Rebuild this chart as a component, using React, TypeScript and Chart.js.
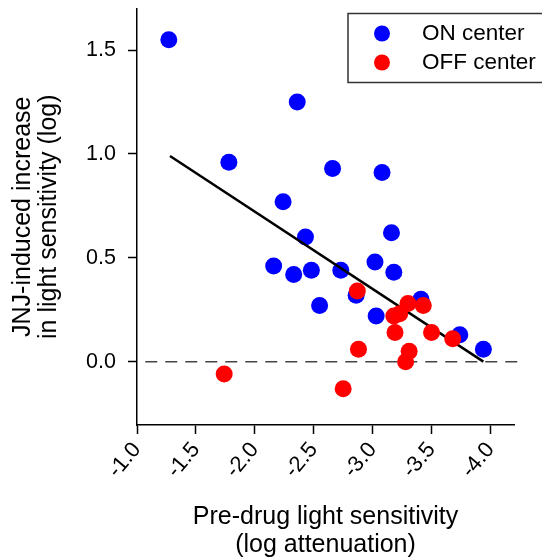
import React, { useEffect, useRef } from "react";
import { Chart, registerables } from "chart.js";

Chart.register(...registerables);

// ---- data ----
const onLabel = "ON center";
const onX = [-1.27, -2.36, -1.78, -2.66, -3.08, -2.24, -2.43, -3.16, -2.16, -2.33, -2.48, -2.73, -3.02, -3.18, -2.55, -2.86, -3.03, -3.41, -3.74, -3.94];
const onY = [1.55, 1.25, 0.96, 0.93, 0.91, 0.77, 0.6, 0.62, 0.46, 0.42, 0.44, 0.44, 0.48, 0.43, 0.27, 0.32, 0.22, 0.3, 0.13, 0.06];

const offLabel = "OFF center";
const offX = [-2.87, -3.3, -3.43, -3.18, -3.23, -3.19, -3.5, -3.68, -2.88, -3.31, -3.28, -1.74, -2.75];
const offY = [0.34, 0.28, 0.27, 0.22, 0.23, 0.14, 0.14, 0.11, 0.06, 0.05, 0.0, -0.06, -0.13];

const fitX = [-1.28, -3.94];
const fitY = [0.99, 0.0];

const zeroX = [-1.07, -4.24];
const zeroY = [0, 0];

const xTicks = [-1.0, -1.5, -2.0, -2.5, -3.0, -3.5, -4.0];
const yTicks = [0.0, 0.5, 1.0, 1.5];

const xTitle = ["Pre-drug light sensitivity", "(log attenuation)"];
const yTitle = ["JNJ-induced increase", "in light sensitivity (log)"];

const FONT = "'Liberation Sans', Arial, Helvetica, sans-serif";

const toPts = (xs: number[], ys: number[]) => xs.map((x, i) => ({ x, y: ys[i] }));

const boxLegend = {
  id: "boxLegend",
  afterDraw(chart: any) {
    const ctx = chart.ctx;
    const ca = chart.chartArea;
    const left = ca.right - 166;
    const top = ca.top + 5;
    ctx.save();
    ctx.strokeStyle = "#333";
    ctx.lineWidth = 1.5;
    ctx.strokeRect(left, top, 230, 69);
    const items = chart.data.datasets.filter((d: any) => d.label);
    items.forEach((d: any, i: number) => {
      const cy = top + 20 + i * 29;
      ctx.beginPath();
      ctx.arc(left + 34, cy, 8, 0, Math.PI * 2);
      ctx.fillStyle = d.backgroundColor;
      ctx.fill();
      ctx.fillStyle = "#000";
      ctx.font = `22.5px ${FONT}`;
      ctx.textBaseline = "middle";
      ctx.textAlign = "left";
      ctx.fillText(d.label, left + 74, cy);
    });
    ctx.restore();
  },
};

export default function App() {
  const ref = useRef<HTMLCanvasElement | null>(null);

  useEffect(() => {
    if (!ref.current) return;
    const chart = new Chart(ref.current, {
      type: "scatter",
      data: {
        datasets: [
          {
            data: toPts(zeroX, zeroY),
            showLine: true,
            borderColor: "#444",
            borderWidth: 1.5,
            borderDash: [12, 8],
            pointRadius: 0,
            clip: false as any,
            order: 4,
          },
          {
            label: onLabel,
            data: toPts(onX, onY),
            backgroundColor: "#0000ff",
            borderWidth: 0,
            pointRadius: 8.5,
            order: 3,
          },
          {
            data: toPts(fitX, fitY),
            showLine: true,
            borderColor: "#000",
            borderWidth: 2.5,
            pointRadius: 0,
            order: 2,
          },
          {
            label: offLabel,
            data: toPts(offX, offY),
            backgroundColor: "#ff0000",
            borderWidth: 0,
            pointRadius: 8.5,
            order: 1,
          },
        ] as any,
      },
      options: {
        animation: false,
        responsive: false,
        devicePixelRatio: 1,
        layout: { padding: { top: 8, right: 28, left: 0, bottom: 0 } },
        plugins: {
          legend: { display: false },
          tooltip: { enabled: false },
        },
        scales: {
          x: {
            type: "linear",
            min: -4.2,
            max: -1.0,
            reverse: true,
            afterBuildTicks: (s: any) => {
              s.ticks = xTicks.map((v) => ({ value: v }));
            },
            afterFit: (s: any) => {
              s.height = 134;
              s.paddingLeft = 0;
              s.paddingRight = 0;
            },
            ticks: {
              autoSkip: false,
              minRotation: 50,
              maxRotation: 50,
              padding: 6,
              color: "#000",
              font: { family: FONT, size: 22, lineHeight: 0.8 },
              callback: (v: any) => Number(v).toFixed(1),
            },
            grid: {
              drawOnChartArea: false,
              drawTicks: true,
              tickLength: 9,
              tickColor: "#000",
              tickWidth: 1.5,
            },
            border: { color: "#000", width: 1.5 },
            title: {
              display: true,
              text: xTitle,
              color: "#000",
              font: { family: FONT, size: 25, lineHeight: 28 / 25 },
              padding: { top: 0, bottom: 0 },
            },
          },
          y: {
            type: "linear",
            min: -0.305,
            max: 1.7,
            afterBuildTicks: (s: any) => {
              s.ticks = yTicks.map((v) => ({ value: v }));
            },
            afterFit: (s: any) => {
              s.width = 137;
              s.paddingTop = 0;
              s.paddingBottom = 0;
            },
            ticks: {
              padding: 12,
              color: "#000",
              font: { family: FONT, size: 21.5 },
              callback: (v: any) => Number(v).toFixed(1),
            },
            grid: {
              drawOnChartArea: false,
              drawTicks: true,
              tickLength: 9,
              tickColor: "#000",
              tickWidth: 1.5,
            },
            border: { color: "#000", width: 1.5 },
            title: {
              display: true,
              text: yTitle,
              color: "#000",
              font: { family: FONT, size: 25, lineHeight: 26 / 25 },
              padding: { top: 10, bottom: 0 },
            },
          },
        },
      } as any,
      plugins: [boxLegend],
    });
    return () => chart.destroy();
  }, []);

  return (
    <div style={{ position: "fixed", left: 0, top: 0, width: 542, height: 559, background: "#fff" }}>
      <canvas ref={ref} width={542} height={559} style={{ display: "block", width: 542, height: 559 }} />
    </div>
  );
}
